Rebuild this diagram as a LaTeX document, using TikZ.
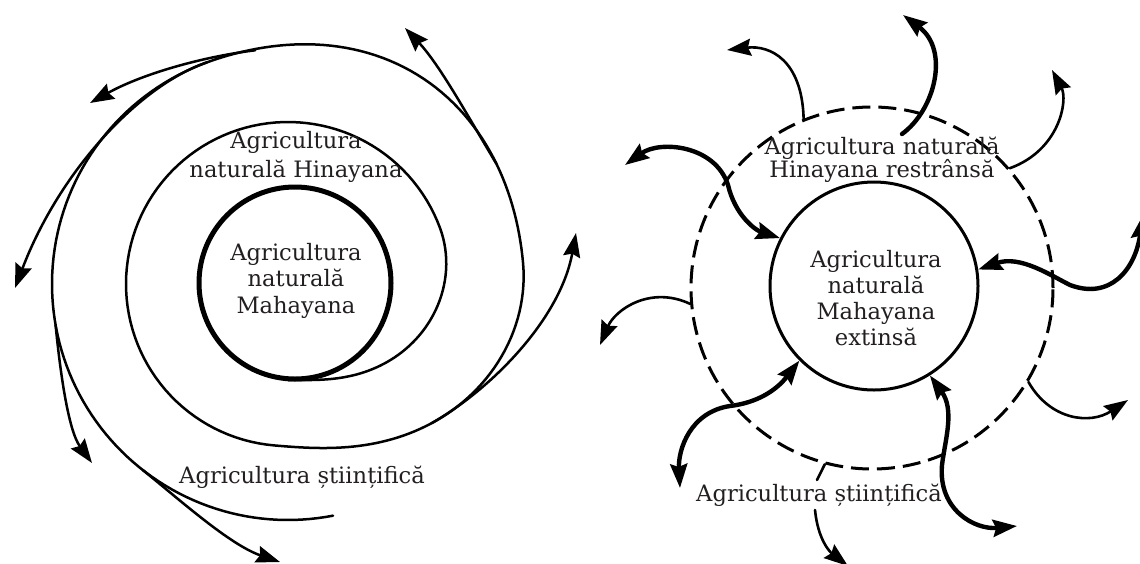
\documentclass[tikz,border=0pt]{standalone}
\usepackage{fontspec}
\setmainfont{DejaVu Serif}
\usetikzlibrary{arrows.meta}
\definecolor{ink}{RGB}{35,31,32}
\begin{document}
\begin{tikzpicture}[x=1pt,y=-1pt,
  >={Stealth[length=24pt,width=17pt,inset=3pt]},
  spiral/.style={line width=2.5pt,line cap=round,line join=round},
  core/.style={circle,draw,line width=5pt,inner sep=0pt},
  thinarrow/.style={line width=2.6pt,line cap=round},
  thickarrow/.style={line width=4.4pt,line cap=round},
  ring/.style={circle,draw,line width=3pt,inner sep=0pt,dash pattern=on 18pt off 8pt},
  hub/.style={circle,draw,line width=3pt,inner sep=0pt},
  lbl/.style={text=ink,align=center,inner sep=0pt},
  lblfont/.style={font={\fontsize{22.6}{#1}\selectfont\lineskiplimit=-30pt}}
]
\useasboundingbox (0,0) rectangle (1140,563);

% ---------- left: the spiral of the three kinds of agriculture ----------
\node[core,minimum size=192pt] (mahaL) at (295,283) {};

% one stroke round the centre (288,284): it leaves the core, makes the
% Hinayana ring, then widens into the outer sweep of scientific farming
\draw[spiral]
  plot[domain=0:110,samples=60,variable=\t]
    ({288+(96+66*(3*(\t/110)^2-2*(\t/110)^3))*sin(\t)},
     {284+(96+66*(3*(\t/110)^2-2*(\t/110)^3))*cos(\t)})
  -- plot[domain=110:355,samples=90,variable=\t]
    ({288+162*sin(\t)},{284+162*cos(\t)})
  -- plot[domain=355:455,samples=60,variable=\t]
    ({288+(162+74*(3*((\t-355)/100)^2-2*((\t-355)/100)^3))*sin(\t)},
     {284+(162+74*(3*((\t-355)/100)^2-2*((\t-355)/100)^3))*cos(\t)})
  -- plot[domain=455:560,samples=60,variable=\t]
    ({288+(236+10*sin(1.714*(\t-455))^2)*sin(\t)},
     {284+(236+10*sin(1.714*(\t-455))^2)*cos(\t)})
  -- plot[domain=560:731,samples=90,variable=\t]
    ({288+236*sin(\t)},{284+236*cos(\t)});

% points on the sweep where the arrows branch off
\coordinate (bA) at ({288+200.1*sin(406)},{284+200.1*cos(406)});
\coordinate (bB) at ({288+240.6*sin(480)},{284+240.6*cos(480)});
\coordinate (bC) at ({288+236*sin(548)},{284+236*cos(548)});
\coordinate (bD) at ({288+236*sin(560)},{284+236*cos(560)});
\coordinate (bE) at ({288+236*sin(640)},{284+236*cos(640)});
\coordinate (bF) at ({288+236*sin(682)},{284+236*cos(682)});

\draw[spiral,->] (bA) .. controls (490,390) and (560,320) .. (576,233);
\draw[spiral,->] (bB) .. controls (470,120) and (440,65) .. (405,28);
\draw[spiral,->] (bC) .. controls (200,57) and (140,75) .. (90,103);
\draw[spiral,->] (bD) .. controls (140,85) and (60,170) .. (15,288);
\draw[spiral,->] (bE) .. controls (60,370) and (68,430) .. (92,463);
\draw[spiral,->] (bF) .. controls (180,500) and (230,545) .. (280,562);

\node[lbl,lblfont=29,anchor=north] (hinaLtxt) at (296,130)
  {\rule{0pt}{18pt}Agricultura\\naturală Hinayana};
\node[lbl,lblfont=26.5,anchor=north] (mahaLtxt) at (296,242)
  {\rule{0pt}{18pt}Agricultura\\naturală\\Mahayana};
\node[lbl,lblfont=26,anchor=base] (sciLtxt) at (302,483) {Agricultura științifică};

% ---------- right: the widened core inside the narrowed ring ----------
\node[ring,minimum size=362pt] (hinaR) at (872,288) {};
\node[hub,minimum size=208pt] (mahaR) at (874,286) {};

% thin arrows leaving the dashed ring
\draw[thinarrow,->] (hinaR.112) .. controls (802,60) and (770,45) .. (727,50);
\draw[thinarrow,->] (hinaR.41) .. controls (1060,150) and (1068,100) .. (1052,70);
\draw[thinarrow,->] (hinaR.-31) .. controls (1050,420) and (1090,425) .. (1128,400);
\draw[thinarrow,->] (hinaR.185) .. controls (650,285) and (615,310) .. (600,345);
\coordinate (cutA) at (817,480);
\coordinate (cutB) at (815,510);
\draw[thinarrow] (hinaR.-105) -- (cutA);
\draw[thinarrow,->] (cutB) .. controls (818,540) and (830,552) .. (848,566);

% thick arrows crossing the ring
\coordinate (startTop) at (902,134);
\draw[thickarrow,->] (startTop) .. controls (935,110) and (950,50) .. (903,15);
\draw[thickarrow,<->] (625,165) .. controls (660,140) and (715,145) .. (728,185)
  .. controls (735,215) and (755,230) .. (mahaR.153);
\draw[thickarrow,<->] (mahaR.9) .. controls (1020,255) and (1050,275) .. (1070,285)
  .. controls (1110,300) and (1135,270) .. (1143,215);
\draw[thickarrow,<->] (mahaR.-58) .. controls (955,410) and (945,440) .. (942,465)
  .. controls (938,510) and (975,530) .. (1017,526);
\draw[thickarrow,<->] (mahaR.-135) .. controls (775,392) and (755,403) .. (730,406)
  .. controls (690,412) and (678,450) .. (680,488);

\node[lbl,lblfont=23,anchor=north] (hinaRtxt) at (882,136)
  {\rule{0pt}{18pt}Agricultura naturală\\Hinayana restrânsă};
\node[lbl,lblfont=26,anchor=north] (mahaRtxt) at (876,249)
  {\rule{0pt}{18pt}Agricultura\\naturală\\Mahayana\\extinsă};
\node[lbl,lblfont=26,anchor=base] (sciRtxt) at (819,501) {Agricultura științifică};
\end{tikzpicture}
\end{document}
